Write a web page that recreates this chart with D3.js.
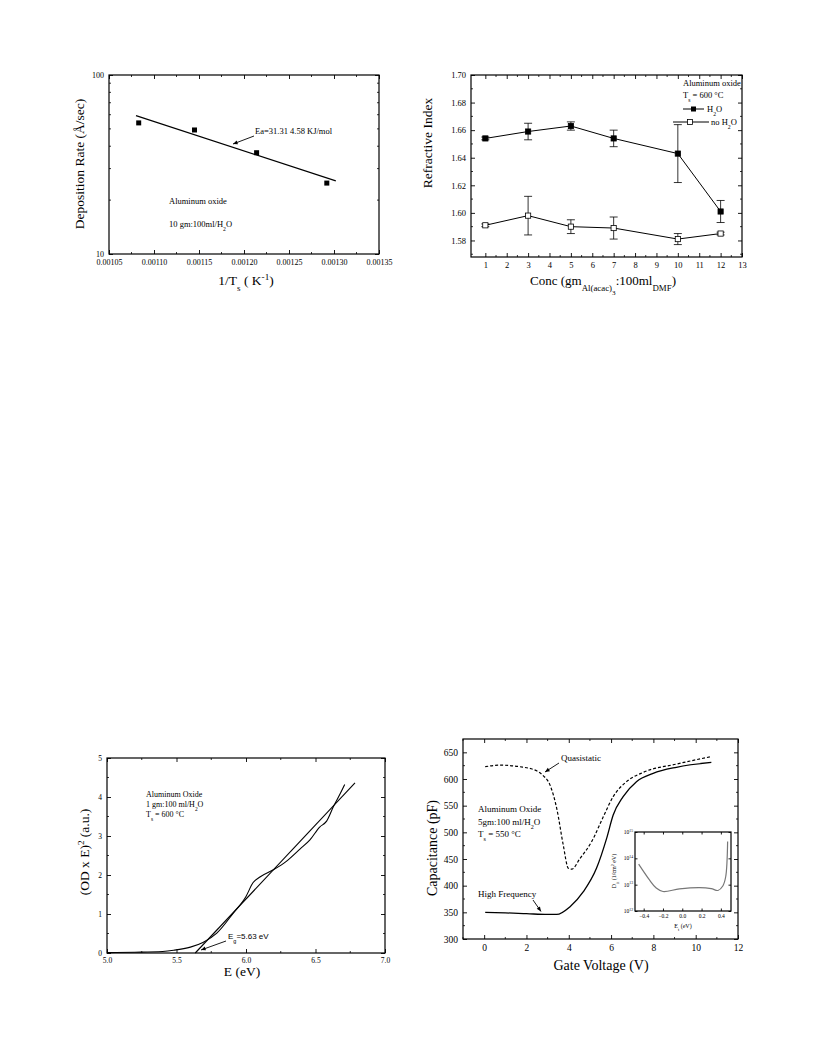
<!DOCTYPE html>
<html><head><meta charset="utf-8">
<script src="https://cdn.jsdelivr.net/npm/d3@7"></script>
<style>body{margin:0;background:#fff}svg{display:block}</style>
</head><body>
<svg id="c" width="816" height="1056"></svg>
<script>
// ---- Panel 1: deposition rate vs 1/Ts
const p1X = [0.001083, 0.001145, 0.001214, 0.001292];
const p1Y = [54, 49.3, 36.8, 24.9];
const p1FitX = [0.00108, 0.001302];
const p1FitY = [59.3, 25.6];
const p1XTicks = [0.00105, 0.00110, 0.00115, 0.00120, 0.00125, 0.00130, 0.00135];
const p1YTicks = [10, 100];
// ---- Panel 2: refractive index vs conc
const p2Conc = [1, 3, 5, 7, 10, 12];
const p2H2O = [1.654, 1.659, 1.663, 1.654, 1.643, 1.601];
const p2H2OErr = [0.001, 0.006, 0.003, 0.006, 0.021, 0.008];
const p2NoH2O = [1.591, 1.598, 1.590, 1.589, 1.581, 1.585];
const p2NoH2OErr = [0.001, 0.014, 0.005, 0.008, 0.004, 0.001];
const p2XTicks = [1,2,3,4,5,6,7,8,9,10,11,12,13];
const p2YTicks = [1.58,1.60,1.62,1.64,1.66,1.68,1.70];
// ---- Panel 3: (OD x E)^2 vs E
const p3E = [5.0, 5.2, 5.4, 5.48, 5.6, 5.69, 5.79, 5.91, 6.0, 6.05, 6.1, 6.2, 6.29, 6.39, 6.46, 6.53, 6.58, 6.63, 6.68, 6.71];
const p3V = [0.01, 0.02, 0.04, 0.07, 0.15, 0.27, 0.51, 1.03, 1.45, 1.8, 1.95, 2.14, 2.35, 2.67, 2.9, 3.23, 3.38, 3.76, 4.1, 4.32];
const p3FitE = [5.635, 6.784];
const p3FitV = [0, 4.36];
const p3XTicks = [5.0, 5.5, 6.0, 6.5, 7.0];
const p3YTicks = [0,1,2,3,4,5];
// ---- Panel 4: C-V
const p4HfV = [0.05, 1, 2, 3, 3.43, 4.06, 4.69, 5.31, 5.79, 6.1, 6.57, 7.2, 7.99, 9.09, 10.74];
const p4HfC = [350, 349, 347.5, 346, 346, 360.6, 388.7, 432.5, 488.7, 532.5, 567, 595, 610.6, 622, 631];
const p4QsV = [0.05, 0.75, 1.7, 2.5, 2.8, 3.11, 3.43, 3.74, 3.98, 4.14, 4.53, 5.08, 5.63, 6.1, 6.73, 7.52, 9.09, 10.74];
const p4QsC = [623, 626, 623, 615, 606, 589, 545, 476, 432.5, 431, 451, 482.5, 529, 567, 595, 612.5, 628, 642];
const p4XTicks = [0,2,4,6,8,10,12];
const p4YTicks = [300,350,400,450,500,550,600,650];
// ---- Inset: Dit vs Et (log10 of Dit)
const inEt = [-0.452, -0.34, -0.27, -0.2, -0.03, 0.18, 0.30, 0.37, 0.42, 0.45, 0.47];
const inDitExp = [13.78, 13.18, 12.87, 12.74, 12.84, 12.89, 12.85, 12.78, 12.95, 13.3, 14.64];
const inXTicks = [-0.4, -0.2, 0.0, 0.2, 0.4];
const inYTicks = [12, 13, 14, 15];

const svg = d3.select('#c');
const SERIF = 'Liberation Serif, Times New Roman, serif';
const SANS = 'Liberation Sans, Arial, sans-serif';

function frame(g, x, y, w, h){
  g.append('rect').attr('x',x).attr('y',y).attr('width',w).attr('height',h)
   .attr('fill','none').attr('stroke','#000').attr('stroke-width',1.2);
}
function styleAxis(sel, fs){
  sel.selectAll('path').remove();
  sel.selectAll('line').attr('stroke','#000').attr('stroke-width',0.9);
  sel.selectAll('text').attr('font-family',SERIF).attr('font-size',fs).attr('fill','#000');
}
function axes(g, xs, ys, L, T, R, B, opt){
  const ms = 4, mn = 2;
  const bx = g.append('g').attr('transform',`translate(0,${B})`)
    .call(d3.axisBottom(xs).tickValues(opt.xt).tickSizeInner(-ms).tickSizeOuter(0).tickPadding(opt.xpad||6).tickFormat(opt.xf));
  styleAxis(bx, opt.fs);
  const tx = g.append('g').attr('transform',`translate(0,${T})`)
    .call(d3.axisTop(xs).tickValues(opt.xt).tickSizeInner(-ms).tickSizeOuter(0).tickFormat(''));
  styleAxis(tx, opt.fs);
  const ly = g.append('g').attr('transform',`translate(${L},0)`)
    .call(d3.axisLeft(ys).tickValues(opt.yt).tickSizeInner(-ms).tickSizeOuter(0).tickPadding(opt.ypad||6).tickFormat(opt.yf));
  styleAxis(ly, opt.fs);
  const ry = g.append('g').attr('transform',`translate(${R},0)`)
    .call(d3.axisRight(ys).tickValues(opt.yt).tickSizeInner(-ms).tickSizeOuter(0).tickFormat(''));
  styleAxis(ry, opt.fs);
  if(opt.xm){
    [[B,-mn],[T,mn]].forEach(([yy,d])=>{
      g.append('g').selectAll('line').data(opt.xm).join('line')
        .attr('x1',v=>xs(v)).attr('x2',v=>xs(v)).attr('y1',yy).attr('y2',yy+d)
        .attr('stroke','#000').attr('stroke-width',0.8);
    });
  }
  if(opt.ym){
    [[L,mn],[R,-mn]].forEach(([xx,d])=>{
      g.append('g').selectAll('line').data(opt.ym).join('line')
        .attr('y1',v=>ys(v)).attr('y2',v=>ys(v)).attr('x1',xx).attr('x2',xx+d)
        .attr('stroke','#000').attr('stroke-width',0.8);
    });
  }
  frame(g, L, T, R-L, B-T);
}
function txt(g, x, y, s, fs, fam, anchor){
  return g.append('text').attr('x',x).attr('y',y).attr('font-size',fs)
    .attr('font-family',fam||SERIF).attr('text-anchor',anchor||'start').attr('fill','#000').text(s);
}
function arrow(g, x1,y1,x2,y2){
  g.append('line').attr('x1',x1).attr('y1',y1).attr('x2',x2).attr('y2',y2)
   .attr('stroke','#000').attr('stroke-width',0.9);
  const a = Math.atan2(y2-y1, x2-x1), L=5, W=0.4;
  const p = [[x2,y2],[x2-L*Math.cos(a-W),y2-L*Math.sin(a-W)],[x2-L*Math.cos(a+W),y2-L*Math.sin(a+W)]];
  g.append('path').attr('d','M'+p.map(q=>q.join(',')).join('L')+'Z').attr('fill','#000');
}
function rich(g, x, y, parts, fs, opt){
  opt = opt||{};
  const t = g.append('text').attr('x',x).attr('y',y).attr('font-size',fs)
    .attr('font-family',opt.fam||SERIF).attr('text-anchor',opt.anchor||'start').attr('fill','#000');
  if(opt.rot) t.attr('transform',`rotate(${opt.rot},${x},${y})`);
  let shift = 0;
  parts.forEach(([s,k])=>{
    const sp = t.append('tspan').text(s);
    let target = k==='sub' ? fs*0.45 : k==='sub2' ? fs*0.75 : k==='sup' ? -fs*0.4 : 0;
    if(target!==shift){ sp.attr('dy', target-shift); shift = target; }
    if(k) sp.attr('font-size', fs*(k==='sub2'?0.55:0.68));
  });
  return t;
}

// ================= Panel 1 =================
{
  const g = svg.append('g');
  const L=109, T=75, R=379, B=254;
  const x = d3.scaleLinear().domain([0.00105,0.00135]).range([L,R]);
  const y = d3.scaleLog().domain([10,100]).range([B,T]);
  const xm = d3.range(0,13).map(i=>0.00105+i*0.000025).filter(v=>!p1XTicks.some(t=>Math.abs(t-v)<1e-9));
  const ym = [20,30,40,50,60,70,80,90];
  axes(g, x, y, L, T, R, B, {xt:p1XTicks, yt:p1YTicks, xf:d3.format('.5f'), yf:d3.format('d'), fs:8, xm, ym, xpad:5, ypad:5});
  g.append('path').attr('d', d3.line()(p1FitX.map((v,i)=>[x(v), y(p1FitY[i])])))
    .attr('stroke','#000').attr('stroke-width',1.2).attr('fill','none');
  g.selectAll('rect.pt').data(p1X).join('rect').attr('class','pt')
    .attr('x',(d,i)=>x(d)-2.5).attr('y',(d,i)=>y(p1Y[i])-2.5).attr('width',5).attr('height',5).attr('fill','#000');
  txt(g, 255, 134, 'Ea=31.31 4.58 KJ/mol', 8.5);
  arrow(g, 254, 136, 233, 144);
  txt(g, 169, 204, 'Aluminum oxide', 8.5);
  rich(g, 169, 227, [['10 gm:100ml/H',null],['2','sub'],['O',null]], 8.5);
  rich(g, 84, 164, [['Deposition Rate (Å/sec)',null]], 13.5, {anchor:'middle', rot:-90});
  rich(g, 246, 285, [['1/T',null],['s','sub'],[' ( K',null],['-1','sup'],[')',null]], 13.5, {anchor:'middle'});
}

// ================= Panel 2 =================
{
  const g = svg.append('g');
  const L=471, T=75, R=742, B=257;
  const x = d3.scaleLinear().domain([0.33,13]).range([L,R]);
  const y = d3.scaleLinear().domain([1.568,1.70]).range([B,T]);
  const xm = d3.range(1,26).map(i=>0.5+i*0.5).filter(v=>v%1!==0 && v<13);
  const ym = d3.range(0,7).map(i=>1.57+i*0.02);
  axes(g, x, y, L, T, R, B, {xt:p2XTicks, yt:p2YTicks, xf:d3.format('d'), yf:d3.format('.2f'), fs:8.5, xm, ym, xpad:5, ypad:5});
  const line = d3.line().x((d,i)=>x(p2Conc[i])).y(d=>y(d));
  [[p2H2O,p2H2OErr,true],[p2NoH2O,p2NoH2OErr,false]].forEach(([vals,err,filled])=>{
    g.append('path').attr('d',line(vals)).attr('fill','none').attr('stroke','#000').attr('stroke-width',1);
    vals.forEach((v,i)=>{
      const cx = x(p2Conc[i]);
      const y1 = y(v+err[i]), y2 = y(v-err[i]);
      g.append('line').attr('x1',cx).attr('x2',cx).attr('y1',y1).attr('y2',y2).attr('stroke','#000').attr('stroke-width',0.8);
      [y1,y2].forEach(yy=>g.append('line').attr('x1',cx-4).attr('x2',cx+4).attr('y1',yy).attr('y2',yy).attr('stroke','#000').attr('stroke-width',0.8));
      g.append('rect').attr('x',cx-2.6).attr('y',y(v)-2.6).attr('width',5.2).attr('height',5.2)
        .attr('fill',filled?'#000':'#fff').attr('stroke','#000').attr('stroke-width',0.8);
    });
  });
  txt(g, 683, 86, 'Aluminum oxide', 8.5);
  rich(g, 683, 98, [['T',null],['s','sub'],[' = 600 °C',null]], 8.5);
  g.append('line').attr('x1',683).attr('x2',704).attr('y1',109).attr('y2',109).attr('stroke','#000');
  g.append('rect').attr('x',691).attr('y',106.5).attr('width',5).attr('height',5).attr('fill','#000');
  rich(g, 707, 112, [['H',null],['2','sub'],['O',null]], 8.5);
  g.append('line').attr('x1',673).attr('x2',709).attr('y1',122).attr('y2',122).attr('stroke','#000');
  g.append('rect').attr('x',687.5).attr('y',119.5).attr('width',5).attr('height',5).attr('fill','#fff').attr('stroke','#000').attr('stroke-width',0.8);
  rich(g, 711, 125, [['no H',null],['2','sub'],['O',null]], 8.5);
  rich(g, 432, 143, [['Refractive Index',null]], 13.5, {anchor:'middle', rot:-90});
  rich(g, 603, 285, [['Conc (gm',null],['Al(acac)','sub'],['3','sub2'],[':100ml',null],['DMF','sub'],[')',null]], 13, {anchor:'middle'});
}

// ================= Panel 3 =================
{
  const g = svg.append('g');
  const L=107, T=758, R=385, B=953;
  const x = d3.scaleLinear().domain([5,7]).range([L,R]);
  const y = d3.scaleLinear().domain([0,5]).range([B,T]);
  const xm = [5.25,5.75,6.25,6.75];
  const ym = [0.5,1.5,2.5,3.5,4.5];
  axes(g, x, y, L, T, R, B, {xt:p3XTicks, yt:p3YTicks, xf:d3.format('.1f'), yf:d3.format('d'), fs:7.5, xm, ym, xpad:5, ypad:5});
  g.append('path').attr('d', d3.line().curve(d3.curveMonotoneX)(p3E.map((v,i)=>[x(v), y(p3V[i])])))
    .attr('fill','none').attr('stroke','#000').attr('stroke-width',1.1);
  g.append('path').attr('d', d3.line()(p3FitE.map((v,i)=>[x(v), y(p3FitV[i])])))
    .attr('fill','none').attr('stroke','#000').attr('stroke-width',1.1);
  txt(g, 146, 797, 'Aluminum Oxide', 8);
  rich(g, 146, 807, [['1 gm:100 ml/H',null],['2','sub'],['O',null]], 8);
  rich(g, 146, 817, [['T',null],['s','sub'],[' = 600 °C',null]], 8);
  rich(g, 228, 939, [['E',null],['g','sub'],['=5.63 eV',null]], 8, {fam:SANS});
  arrow(g, 226, 941, 201, 950);
  rich(g, 89, 852, [['(OD x E)',null],['2','sup'],[' (a.u.)',null]], 13.5, {anchor:'middle', rot:-90});
  txt(g, 242, 976, 'E (eV)', 13.5, SERIF, 'middle');
}

// ================= Panel 4 =================
{
  const g = svg.append('g');
  const L=463, T=739, R=738, B=939;
  const x = d3.scaleLinear().domain([-1,12]).range([L,R]);
  const y = d3.scaleLinear().domain([300,675]).range([B,T]);
  const xm = [-1,1,3,5,7,9,11];
  const ym = [325,375,425,475,525,575,625];
  axes(g, x, y, L, T, R, B, {xt:p4XTicks, yt:p4YTicks, xf:d3.format('d'), yf:d3.format('d'), fs:9.5, xm, ym, xpad:5, ypad:5});
  g.append('path').attr('d', d3.line().curve(d3.curveMonotoneX)(p4HfV.map((v,i)=>[x(v), y(p4HfC[i])])))
    .attr('fill','none').attr('stroke','#000').attr('stroke-width',1.3);
  g.append('path').attr('d', d3.line().curve(d3.curveMonotoneX)(p4QsV.map((v,i)=>[x(v), y(p4QsC[i])])))
    .attr('fill','none').attr('stroke','#000').attr('stroke-width',1.2).attr('stroke-dasharray','3,2');
  txt(g, 561, 761, 'Quasistatic', 9);
  arrow(g, 559, 763, 545, 772);
  txt(g, 478, 897, 'High Frequency', 9);
  arrow(g, 533, 900, 541, 911.5);
  txt(g, 478, 812, 'Aluminum Oxide', 9);
  rich(g, 478, 825, [['5gm:100 ml/H',null],['2','sub'],['O',null]], 9);
  rich(g, 478, 837, [['T',null],['s','sub'],[' = 550 °C',null]], 9);
  rich(g, 437, 848, [['Capacitance (pF)',null]], 14, {anchor:'middle', rot:-90});
  txt(g, 601, 970, 'Gate Voltage (V)', 14, SERIF, 'middle');

  // inset
  const iL=635, iT=832, iR=731, iB=911;
  const xi = d3.scaleLinear().domain([-0.49,0.505]).range([iL,iR]);
  const yi = d3.scaleLinear().domain([12,15]).range([iB,iT]);
  g.append('rect').attr('x',iL).attr('y',iT).attr('width',iR-iL).attr('height',iB-iT).attr('fill','#fff');
  const ib = g.append('g').attr('transform',`translate(0,${iB})`)
    .call(d3.axisBottom(xi).tickValues(inXTicks).tickSizeInner(-2.5).tickSizeOuter(0).tickPadding(3).tickFormat(d3.format('.1f')));
  styleAxis(ib, 5.5);
  const it = g.append('g').attr('transform',`translate(0,${iT})`)
    .call(d3.axisTop(xi).tickValues(inXTicks).tickSizeInner(-2.5).tickSizeOuter(0).tickFormat(''));
  styleAxis(it, 5.5);
  const il = g.append('g').attr('transform',`translate(${iL},0)`)
    .call(d3.axisLeft(yi).tickValues(inYTicks).tickSizeInner(-2.5).tickSizeOuter(0).tickPadding(2).tickFormat(''));
  styleAxis(il, 5.5);
  const ir = g.append('g').attr('transform',`translate(${iR},0)`)
    .call(d3.axisRight(yi).tickValues(inYTicks).tickSizeInner(-2.5).tickSizeOuter(0).tickFormat(''));
  styleAxis(ir, 5.5);
  inYTicks.forEach(v=>{
    rich(g, iL-2, yi(v)+2, [['10',null],[String(v),'sup']], 5.5, {anchor:'end'});
  });
  frame(g, iL, iT, iR-iL, iB-iT);
  g.append('path').attr('d', d3.line().curve(d3.curveCatmullRom)(inEt.map((v,i)=>[xi(v), yi(inDitExp[i])])))
    .attr('fill','none').attr('stroke','#777').attr('stroke-width',1.2);
  rich(g, 616, 871, [['D',null],['it','sub'],[' (1/cm',null],['2','sup'],[' eV)',null]], 6, {anchor:'middle', rot:-90});
  rich(g, 683, 928, [['E',null],['t','sub'],[' (eV)',null]], 6, {anchor:'middle'});
}
</script>
</body></html>
